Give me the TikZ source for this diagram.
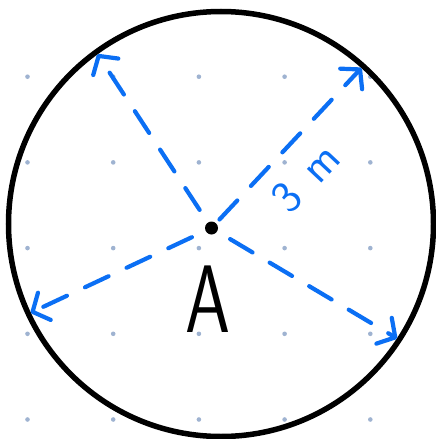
\documentclass[tikz,border=0pt]{standalone}
\usepackage{xcolor}
\usepackage{graphicx}
\usepackage{tikz}
\usetikzlibrary{arrows.meta,positioning}

\definecolor{pen}{HTML}{0B6FF4}
\definecolor{gridgray}{HTML}{9FB3D1}

\begin{document}
\begin{tikzpicture}[
  x=1pt, y=-1pt,
  node distance=28pt,
  rim/.style   ={circle, draw, line width=5.5pt, minimum size=425pt,
                 inner sep=0pt, outer sep=0pt},
  point/.style ={circle, fill, minimum size=13pt, inner sep=0pt},
  gridpt/.style={fill=gridgray},
  radius/.style={pen, line width=4.2pt, line cap=round,
                 dash pattern=on 26pt off 20pt,
                 -{Straight Barb[round, length=13pt, width=30pt]},
                 shorten <=15pt, shorten >=2.5pt}
]
  \useasboundingbox (0,0) rectangle (436,439);

  % dotted paper
  \foreach \i in {0,...,4}
    \foreach \j in {0,...,4}
      \fill[gridpt] (27.5+85.7*\i, 76.7+85.7*\j) circle (2.3pt);

  \node[rim]   (circ) at (221,224) {};
  \node[point] (ctr)  at (211.5,228) {};
  \node[font=\sffamily\fontsize{96}{96}\selectfont,
        below=of ctr, xshift=-4pt] (lblA) {\scalebox{0.75}[1]{A}};

  \draw[radius] (ctr) -- (circ.126);
  \draw[radius, shorten <=5pt] (ctr) --
    node[pos=0.44, sloped, below=13pt, text=pen,
         font=\sffamily\fontsize{46}{46}\selectfont] (len) {3\hspace{20pt}m} (circ.48);
  \draw[radius] (ctr) -- (circ.205);
  \draw[radius] (ctr) -- (circ.327);
\end{tikzpicture}
\end{document}
